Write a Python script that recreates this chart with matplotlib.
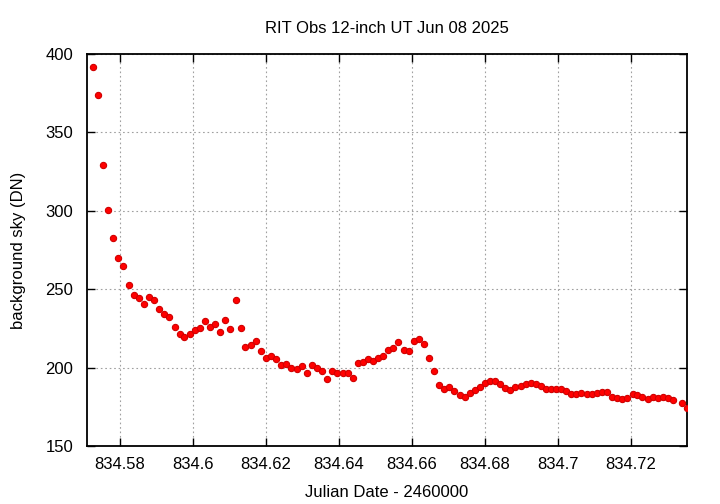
import matplotlib
matplotlib.use('Agg')
import matplotlib.pyplot as plt

plt.rcParams['font.family'] = ['Liberation Sans', 'DejaVu Sans']

# Julian Date - 2460000
jd = [834.5726, 834.5741, 834.5754, 834.5768, 834.5782, 834.5796, 834.5810, 834.5824, 834.5838, 834.5852,
      834.5866, 834.5880, 834.5894, 834.5908, 834.5921, 834.5935, 834.5950, 834.5964, 834.5977, 834.5991,
      834.6005, 834.6019, 834.6033, 834.6047, 834.6061, 834.6075, 834.6088, 834.6102, 834.6117, 834.6131,
      834.6144, 834.6159, 834.6173, 834.6186, 834.6200, 834.6215, 834.6228, 834.6242, 834.6256, 834.6270,
      834.6284, 834.6299, 834.6312, 834.6327, 834.6341, 834.6354, 834.6368, 834.6382, 834.6395, 834.6410,
      834.6424, 834.6438, 834.6451, 834.6466, 834.6479, 834.6493, 834.6508, 834.6521, 834.6535, 834.6549,
      834.6562, 834.6577, 834.6591, 834.6605, 834.6619, 834.6633, 834.6647, 834.6660, 834.6675, 834.6688,
      834.6702, 834.6716, 834.6731, 834.6744, 834.6758, 834.6772, 834.6786, 834.6800, 834.6814, 834.6827,
      834.6842, 834.6856, 834.6869, 834.6883, 834.6898, 834.6912, 834.6925, 834.6939, 834.6953, 834.6967,
      834.6981, 834.6995, 834.7009, 834.7023, 834.7036, 834.7050, 834.7064, 834.7079, 834.7092, 834.7106,
      834.7120, 834.7133, 834.7148, 834.7162, 834.7175, 834.7189, 834.7204, 834.7217, 834.7231, 834.7245,
      834.7259, 834.7273, 834.7287, 834.7301, 834.7315, 834.7340, 834.7353]

# background sky (DN)
sky = [392.0, 374.0, 329.0, 300.8, 282.7, 270.0, 264.6, 252.5, 246.0, 244.5,
       240.4, 245.1, 243.1, 237.1, 233.9, 232.4, 226.2, 221.3, 219.6, 221.3,
       223.7, 225.4, 229.4, 225.6, 227.7, 222.6, 230.3, 224.7, 243.2, 225.4,
       213.2, 214.5, 216.9, 210.7, 205.9, 207.1, 205.4, 201.8, 202.3, 199.9,
       199.2, 200.8, 196.7, 201.4, 199.7, 197.8, 192.7, 197.8, 196.5, 196.5,
       196.7, 193.5, 202.9, 203.7, 205.4, 204.4, 205.9, 207.1, 211.0, 212.6,
       216.2, 211.1, 210.5, 217.1, 218.0, 215.2, 206.1, 198.0, 188.9, 186.5,
       187.4, 185.0, 182.3, 181.0, 184.0, 185.7, 187.7, 190.3, 191.2, 191.2,
       189.7, 187.1, 185.9, 187.8, 188.4, 189.7, 190.1, 189.3, 188.2, 186.3,
       186.5, 186.1, 186.1, 185.0, 183.3, 183.1, 183.6, 183.3, 183.1, 183.6,
       184.6, 184.2, 181.4, 180.4, 180.0, 180.4, 183.1, 182.3, 181.2, 180.1,
       181.4, 180.6, 181.4, 180.8, 179.3, 177.2, 174.5]

xticks = [834.58, 834.6, 834.62, 834.64, 834.66, 834.68, 834.7, 834.72]
xtick_labels = ['834.58', '834.6', '834.62', '834.64', '834.66', '834.68', '834.7', '834.72']
yticks = [150, 200, 250, 300, 350, 400]

fig = plt.figure(figsize=(7.2, 5.04), dpi=100)
ax = fig.add_axes([0.1208, 0.1151, 0.8333, 0.7778])

ax.plot(jd, sky, linestyle='none', marker='o', markersize=4.5,
        markerfacecolor='#ff0000', markeredgecolor='#d00000', markeredgewidth=0.8,
        clip_on=True, zorder=3)

ax.set_xlim(834.5710, 834.7353)
ax.set_ylim(150, 400)
ax.set_xticks(xticks)
ax.set_xticklabels(xtick_labels)
ax.set_yticks(yticks)

ax.grid(True, color='#a0a0a0', linestyle=(0, (1.5, 2.5)), linewidth=0.8)
ax.tick_params(direction='in', length=6, width=1, top=True, right=True,
               labelsize=12, pad=8)
ax.tick_params(axis='y', pad=10)
for s in ax.spines.values():
    s.set_linewidth(1.3)

ax.set_title('RIT Obs 12-inch UT Jun 08 2025', fontsize=12, pad=15)
ax.set_xlabel('Julian Date - 2460000', fontsize=12, labelpad=9)
ax.set_ylabel('background sky (DN)', fontsize=12, labelpad=14)

plt.savefig('out.png', dpi=100)
plt.close()
